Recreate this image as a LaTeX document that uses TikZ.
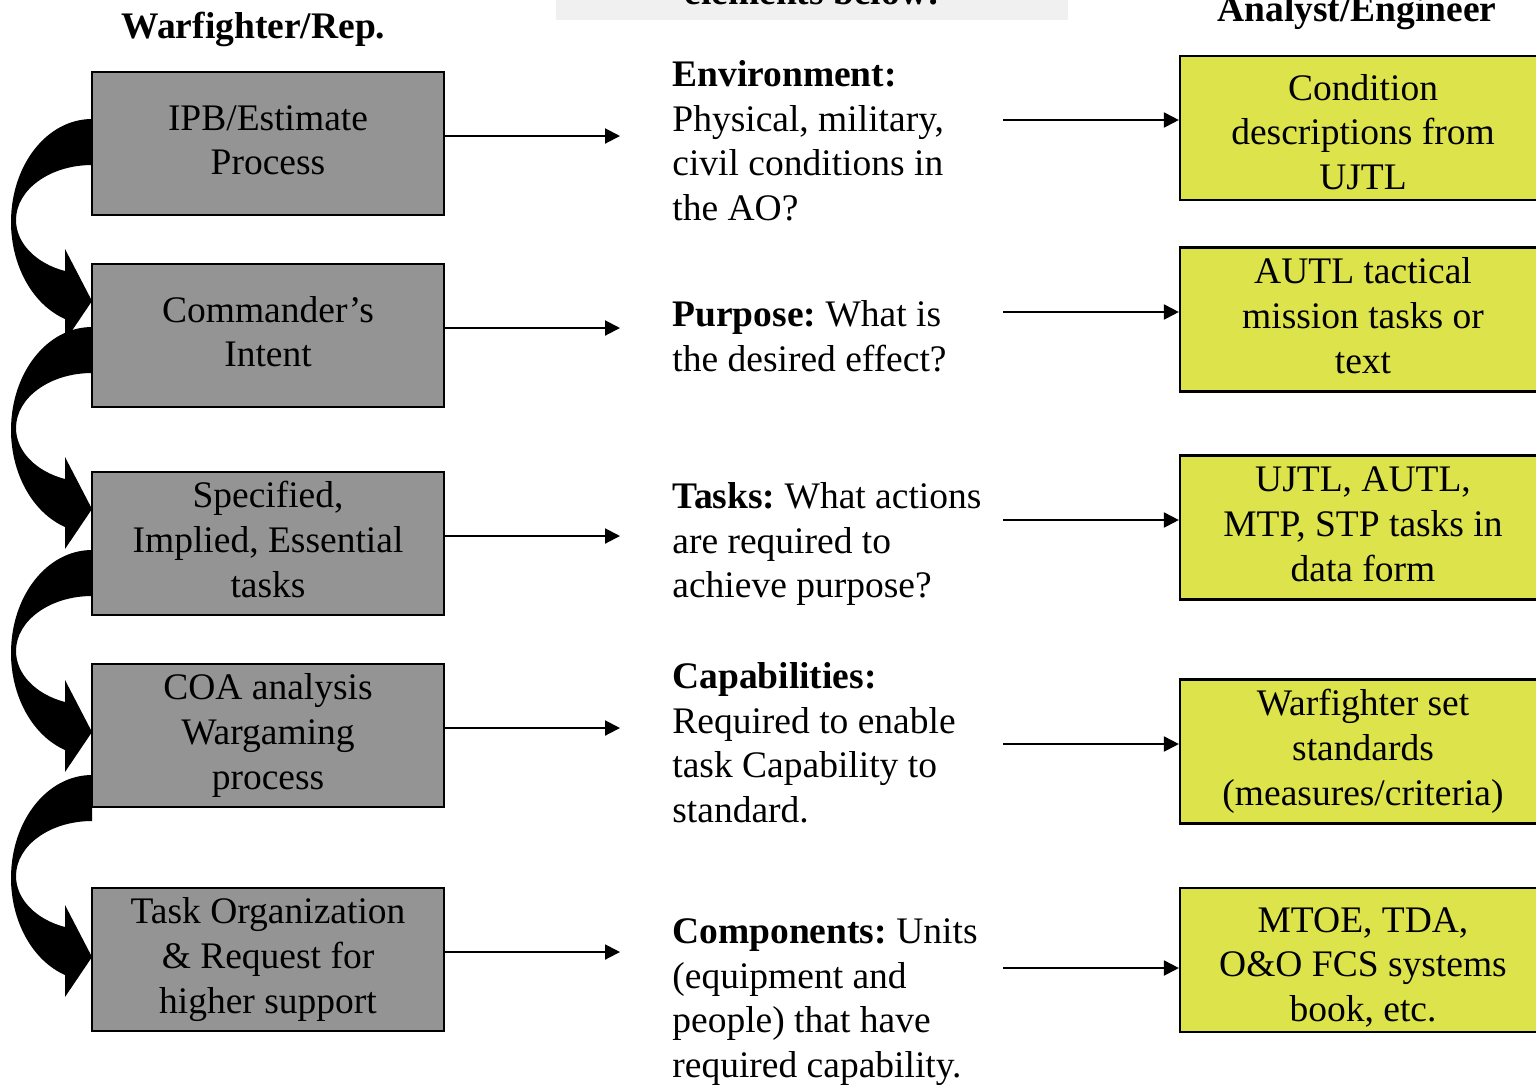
\documentclass[tikz,border=0pt]{standalone}
\usepackage{fontspec}
\setmainfont{Liberation Serif}
\frenchspacing
\usetikzlibrary{arrows.meta}
\definecolor{boxgray}{RGB}{148,148,148}
\definecolor{boxyellow}{RGB}{221,227,74}
\newcommand{\bodyfont}{\fontsize{18.75}{22.35}\selectfont}
\newcommand{\lowstrut}{\rule{0pt}{19.7pt}}
\newcommand{\lowend}{\rule[-3pt]{0pt}{3pt}}
\tikzset{
	wfbox/.style={draw,line width=1.1pt,fill=boxgray,minimum width=176pt,minimum height=71.5pt,
		align=center,inner sep=0pt,font=\bodyfont},
	anbox/.style={wfbox,fill=boxyellow,minimum width=183pt,minimum height=72pt},
	qtext/.style={anchor=north west,inner sep=0pt,align=left,font=\bodyfont},
	head/.style={anchor=base,inner sep=0pt,font=\bodyfont\bfseries},
	thinarr/.style={-{Triangle[length=7.5pt,width=7.5pt]},line width=1pt}
}
\begin{document}
\begin{tikzpicture}[x=0.5pt,y=-0.5pt]
	\useasboundingbox (0,0) rectangle (1536,1084);
	\clip (0,0) rectangle (1536,1084);
	% headings
	\fill[gray!12] (556,-10) rectangle (1068,20);
	\node[head] (el) at (812,4) {elements below:};
	\node[head] (wf) at (253.5,38) {Warfighter/Rep.};
	\node[head] (an) at (1357,21) {Analyst/Engineer};
	% curved block arrows
	\foreach \y in {119,327,550,775}
		\fill (92,\y) .. controls (47,\y) and (11,\y+46) .. (11,\y+103)
			.. controls (11,\y+146.6) and (32.6,\y+185.6) .. (65,\y+200)
			-- (65,\y+222) -- (92,\y+182) -- (65,\y+130) -- (65,\y+152)
			.. controls (35.5,\y+144.3) and (16,\y+123.8) .. (16,\y+101)
			.. controls (16,\y+70.6) and (50,\y+46) .. (92,\y+46) -- cycle;
	% left column
	\node[wfbox] (b1) at (268,143.5) {\strut IPB/Estimate\\Process\strut};
	\node[wfbox] (b2) at (268,335.5) {\strut Commander’s\\Intent\strut};
	\node[wfbox] (b3) at (268,543.5) {\strut Specified,\\Implied, Essential\\tasks\strut};
	\node[wfbox] (b4) at (268,735.5) {\strut COA analysis\\Wargaming\\process\strut};
	\node[wfbox] (b5) at (268,959.5) {\strut Task Organization\\\& Request for\\higher support\strut};
	% middle column
	\node[qtext] (q1) at (672,54.7) {\strut\textbf{Environment:}\\Physical, military,\\civil conditions in\\the AO?};
	\node[qtext] (q2) at (672,294.7) {\strut\textbf{Purpose:} What is\\the desired effect?};
	\node[qtext] (q3) at (672,476.7) {\strut\textbf{Tasks:} What actions\\are required to\\achieve purpose?};
	\node[qtext] (q4) at (672,656.7) {\strut\textbf{Capabilities:}\\Required to enable\\task Capability to\\standard.};
	\node[qtext] (q5) at (672,911.7) {\strut\textbf{Components:} Units\\(equipment and\\people) that have\\required capability.};
	% right column
	\node[anbox] (r1) at (1363,128) {\lowstrut Condition\\descriptions from\\UJTL\lowend};
	\node[anbox] (r2) at (1363,319.5) {\strut AUTL tactical\\mission tasks or\\text\strut};
	\node[anbox] (r3) at (1363,527.5) {\strut UJTL, AUTL,\\MTP, STP tasks in\\data form\strut};
	\node[anbox] (r4) at (1363,751.5) {\strut Warfighter set\\standards\\(measures/criteria)\strut};
	\node[anbox] (r5) at (1363,960) {\lowstrut MTOE, TDA,\\O\&O FCS systems\\book, etc.\lowend};
	% connectors
	\foreach \i/\y in {1/136,2/328,3/536,4/728,5/952}{
		\coordinate (e\i) at (620,\y);
		\draw[thinarr] (b\i.east |- e\i) -- (e\i);
	}
	\foreach \i/\y in {1/120,2/312,3/520,4/744,5/968}{
		\coordinate (s\i) at (1003,\y);
		\draw[thinarr] (s\i) -- (s\i -| r\i.west);
	}
\end{tikzpicture}
\end{document}
